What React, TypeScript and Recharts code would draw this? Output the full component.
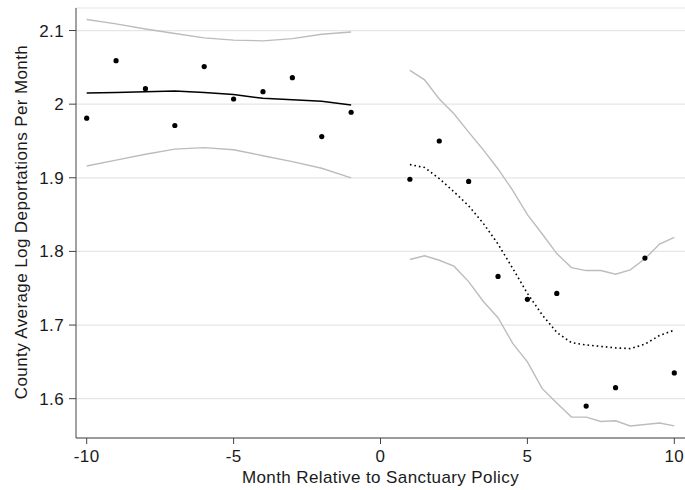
import React from "react";
import {
  ComposedChart,
  Line,
  Scatter,
  XAxis,
  YAxis,
  CartesianGrid,
  Label,
} from "recharts";

// monthly means (event time)
const months = [-10, -9, -8, -7, -6, -5, -4, -3, -2, -1, 1, 2, 3, 4, 5, 6, 7, 8, 9, 10];
const meanLogDeport = [
  1.981, 2.059, 2.021, 1.971, 2.051, 2.007, 2.017, 2.036, 1.956, 1.989,
  1.898, 1.95, 1.895, 1.766, 1.735, 1.743, 1.59, 1.615, 1.791, 1.635,
];

// pre-period fit and band
const preX = [-10, -9, -8, -7, -6, -5, -4, -3, -2, -1];
const preFit = [2.015, 2.016, 2.017, 2.018, 2.016, 2.013, 2.008, 2.006, 2.004, 1.999];
const preHi = [2.115, 2.109, 2.102, 2.096, 2.09, 2.087, 2.086, 2.089, 2.095, 2.098];
const preLo = [1.916, 1.924, 1.932, 1.939, 1.941, 1.938, 1.93, 1.922, 1.913, 1.9];

// post-period fit and band
const postX = [1, 1.5, 2, 2.5, 3, 3.5, 4, 4.5, 5, 5.5, 6, 6.5, 7, 7.5, 8, 8.5, 9, 9.5, 10];
const postFit = [
  1.918, 1.914, 1.899, 1.881, 1.862, 1.838, 1.81, 1.777, 1.743, 1.714,
  1.69, 1.676, 1.673, 1.671, 1.669, 1.668, 1.674, 1.686, 1.693,
];
const postHi = [
  2.046, 2.033, 2.007, 1.987, 1.962, 1.938, 1.912, 1.883, 1.85, 1.824,
  1.797, 1.778, 1.774, 1.774, 1.769, 1.775, 1.79, 1.81, 1.819,
];
const postLo = [
  1.789, 1.794, 1.788, 1.78, 1.759, 1.732, 1.71, 1.675, 1.65, 1.614,
  1.594, 1.575, 1.575, 1.569, 1.57, 1.563, 1.565, 1.567, 1.563,
];

const xTicks = [-10, -5, 0, 5, 10];
const yTicks = [1.6, 1.7, 1.8, 1.9, 2.0, 2.1];

const pts = (xs: number[], ys: number[]) => xs.map((x, i) => ({ x, y: ys[i] }));

const FONT = "'Liberation Sans', Arial, Helvetica, sans-serif";
const AXIS = "#444";
const TXT = "#1a1a1a";

export default function App() {
  const scatterData = pts(months, meanLogDeport);

  return (
    <div style={{ position: "absolute", left: 0, top: 0, background: "#fff" }}>
      <ComposedChart
        width={685}
        height={490}
        margin={{ top: 8, right: 0, bottom: 0, left: 0 }}
        style={{ fontFamily: FONT }}
      >
        <CartesianGrid vertical={false} stroke="#e6e6e6" strokeWidth={1.2} />
        <XAxis
          type="number"
          dataKey="x"
          domain={[-10.364, 10.364]}
          ticks={xTicks}
          height={52}
          stroke={AXIS}
          tickSize={6}
          tickMargin={6}
          tick={{ fill: TXT, fontSize: 17, letterSpacing: 0.4 }}
          allowDataOverflow
        >
          <Label
            content={() => (
              <text x={380.5} y={483} textAnchor="middle" fill={TXT} fontSize={17} letterSpacing={0.4}>
                Month Relative to Sanctuary Policy
              </text>
            )}
          />
        </XAxis>
        <YAxis
          type="number"
          dataKey="y"
          domain={[1.5466, 2.1306]}
          ticks={yTicks}
          width={76}
          stroke={AXIS}
          tickSize={7}
          tickMargin={5}
          tick={{ fill: TXT, fontSize: 17, letterSpacing: 0.4 }}
          tickFormatter={(v: number) => (v === 2 ? "2" : v.toFixed(1))}
          allowDataOverflow
        >
          <Label
            content={() => (
              <text
                x={26.5}
                y={222}
                transform="rotate(-90, 26.5, 222)"
                textAnchor="middle"
                fill={TXT}
                fontSize={17}
                letterSpacing={0.4}
              >
                County Average Log Deportations Per Month
              </text>
            )}
          />
        </YAxis>

        <Line data={pts(preX, preHi)} dataKey="y" stroke="#bcbcbc" strokeWidth={1.4} dot={false} type="linear" isAnimationActive={false} />
        <Line data={pts(preX, preLo)} dataKey="y" stroke="#bcbcbc" strokeWidth={1.4} dot={false} type="linear" isAnimationActive={false} />
        <Line data={pts(postX, postHi)} dataKey="y" stroke="#bcbcbc" strokeWidth={1.4} dot={false} type="linear" isAnimationActive={false} />
        <Line data={pts(postX, postLo)} dataKey="y" stroke="#bcbcbc" strokeWidth={1.4} dot={false} type="linear" isAnimationActive={false} />
        <Line data={pts(preX, preFit)} dataKey="y" stroke="#000" strokeWidth={1.5} dot={false} type="linear" isAnimationActive={false} />
        <Line
          data={pts(postX, postFit)}
          dataKey="y"
          stroke="#000"
          strokeWidth={1.6}
          strokeDasharray="1.6 3"
          dot={false}
          type="linear"
          isAnimationActive={false}
        />
        <Scatter
          data={scatterData}
          dataKey="y"
          isAnimationActive={false}
          shape={(p: any) => <circle cx={p.cx} cy={p.cy} r={2.6} fill="#000" />}
        />
      </ComposedChart>
    </div>
  );
}
